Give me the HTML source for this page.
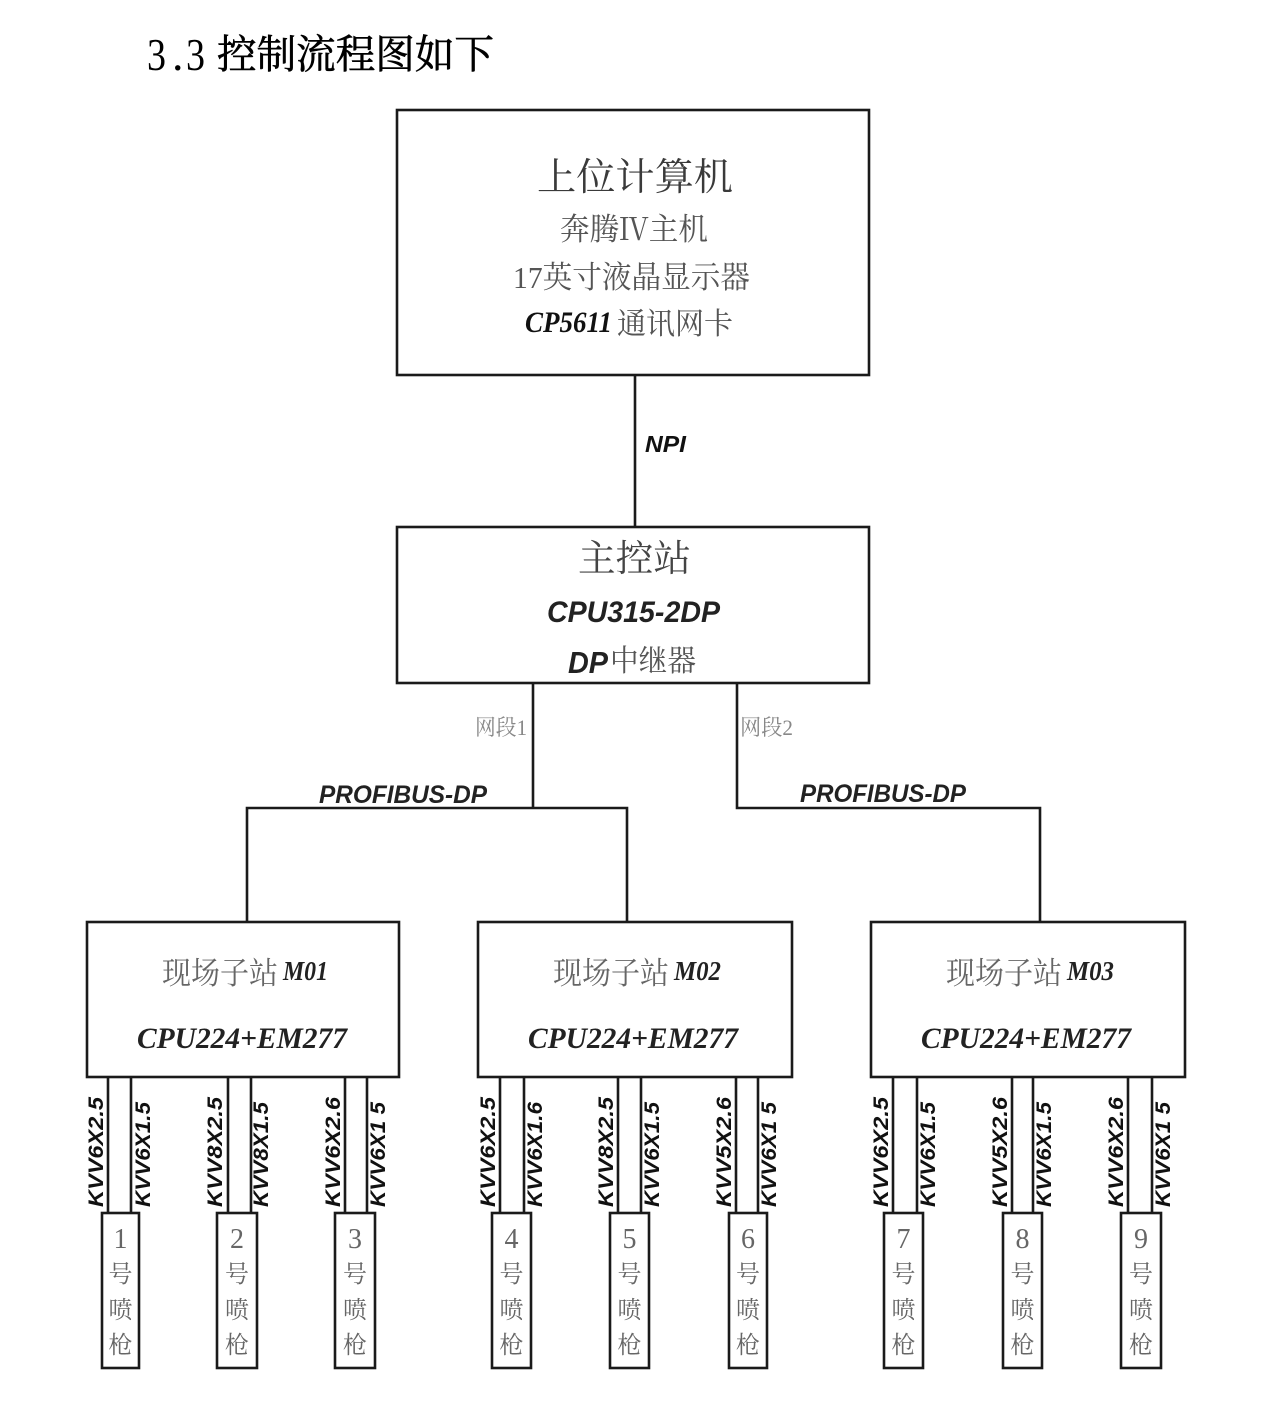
<!DOCTYPE html>
<html>
<head>
<meta charset="utf-8">
<style>
  html, body { margin: 0; padding: 0; background: #ffffff; }
  body { width: 1269px; height: 1413px; overflow: hidden; }
  svg { display: block; }
  .cjk { font-family: "Liberation Serif", "Noto Serif CJK SC", serif; }
  .bis { font-family: "Liberation Sans", sans-serif; font-weight: bold; font-style: italic; }
  .bir { font-family: "Liberation Serif", serif; font-weight: bold; font-style: italic; }
</style>
</head>
<body>
<svg width="1269" height="1413" viewBox="0 0 1269 1413" xmlns="http://www.w3.org/2000/svg">
  <rect x="0" y="0" width="1269" height="1413" fill="#ffffff"/>

  <!-- Title -->
  <g font-family="Liberation Serif, serif" font-size="46" fill="#000">
    <text x="147" y="70" textLength="19" lengthAdjust="spacingAndGlyphs">3</text>
    <text x="172" y="70">.</text>
    <text x="186" y="70" textLength="19" lengthAdjust="spacingAndGlyphs">3</text>
  </g>
  <text x="217" y="68" class="cjk" font-size="40" fill="#000" stroke="#000" stroke-width="0.6" textLength="277" lengthAdjust="spacingAndGlyphs">控制流程图如下</text>

  <g fill="none" stroke="#1a1a1a" stroke-width="2.6">
    <!-- top box -->
    <rect x="397" y="110" width="472" height="265"/>
    <line x1="635" y1="375" x2="635" y2="527"/>
    <!-- master box -->
    <rect x="397" y="527" width="472" height="156"/>
    <!-- segments -->
    <polyline points="533,683 533,808"/>
    <polyline points="737,683 737,808 1040,808 1040,922"/>
    <polyline points="247,922 247,808 627,808 627,922"/>
    <!-- substation boxes -->
    <rect x="87" y="922" width="312" height="155"/>
    <rect x="478" y="922" width="314" height="155"/>
    <rect x="871" y="922" width="314" height="155"/>
    <!-- wire pairs -->
    <line x1="108" y1="1077" x2="108" y2="1213"/><line x1="131" y1="1077" x2="131" y2="1213"/>
    <line x1="228" y1="1077" x2="228" y2="1213"/><line x1="251" y1="1077" x2="251" y2="1213"/>
    <line x1="345" y1="1077" x2="345" y2="1213"/><line x1="367" y1="1077" x2="367" y2="1213"/>
    <line x1="500" y1="1077" x2="500" y2="1213"/><line x1="524" y1="1077" x2="524" y2="1213"/>
    <line x1="618" y1="1077" x2="618" y2="1213"/><line x1="641" y1="1077" x2="641" y2="1213"/>
    <line x1="736" y1="1077" x2="736" y2="1213"/><line x1="758" y1="1077" x2="758" y2="1213"/>
    <line x1="893" y1="1077" x2="893" y2="1213"/><line x1="917" y1="1077" x2="917" y2="1213"/>
    <line x1="1012" y1="1077" x2="1012" y2="1213"/><line x1="1033" y1="1077" x2="1033" y2="1213"/>
    <line x1="1128" y1="1077" x2="1128" y2="1213"/><line x1="1152" y1="1077" x2="1152" y2="1213"/>
    <!-- nozzle boxes -->
    <rect x="102" y="1213" width="37" height="155"/>
    <rect x="217" y="1213" width="40" height="155"/>
    <rect x="335" y="1213" width="40" height="155"/>
    <rect x="492" y="1213" width="39" height="155"/>
    <rect x="610" y="1213" width="39" height="155"/>
    <rect x="729" y="1213" width="38" height="155"/>
    <rect x="884" y="1213" width="39" height="155"/>
    <rect x="1003" y="1213" width="39" height="155"/>
    <rect x="1121" y="1213" width="40" height="155"/>
  </g>

  <!-- Top box text -->
  <text x="537" y="190" class="cjk" font-size="38" fill="#3a3a3a" textLength="196" lengthAdjust="spacingAndGlyphs">上位计算机</text>
  <text x="560" y="240" class="cjk" font-size="31" fill="#555" textLength="148" lengthAdjust="spacingAndGlyphs">奔腾Ⅳ主机</text>
  <text x="513" y="288" class="cjk" font-size="31" fill="#555" textLength="237" lengthAdjust="spacingAndGlyphs">17英寸液晶显示器</text>
  <text x="525" y="332" class="bir" font-size="30" fill="#111" textLength="87" lengthAdjust="spacingAndGlyphs">CP5611</text>
  <text x="617" y="334" class="cjk" font-size="30" fill="#555" textLength="116" lengthAdjust="spacingAndGlyphs">通讯网卡</text>

  <!-- NPI -->
  <text x="645" y="452" class="bis" font-size="23" fill="#111" textLength="41" lengthAdjust="spacingAndGlyphs">NPI</text>

  <!-- Master box text -->
  <text x="578" y="571" class="cjk" font-size="37" fill="#444" textLength="113" lengthAdjust="spacingAndGlyphs">主控站</text>
  <text x="547" y="622" class="bis" font-size="30" fill="#222" textLength="173" lengthAdjust="spacingAndGlyphs">CPU315-2DP</text>
  <text x="568" y="673" class="bis" font-size="31" fill="#222" textLength="40" lengthAdjust="spacingAndGlyphs">DP</text>
  <text x="610" y="671" class="cjk" font-size="30" fill="#555" textLength="86" lengthAdjust="spacingAndGlyphs">中继器</text>

  <!-- Segment labels -->
  <text x="475" y="735" class="cjk" font-size="22" fill="#888" textLength="52" lengthAdjust="spacingAndGlyphs">网段1</text>
  <text x="740" y="735" class="cjk" font-size="22" fill="#888" textLength="53" lengthAdjust="spacingAndGlyphs">网段2</text>
  <text x="319" y="803" class="bis" font-size="25" fill="#222" textLength="168" lengthAdjust="spacingAndGlyphs">PROFIBUS-DP</text>
  <text x="800" y="802" class="bis" font-size="25" fill="#222" textLength="166" lengthAdjust="spacingAndGlyphs">PROFIBUS-DP</text>

  <!-- Substation texts -->
  <text x="162" y="984" class="cjk" font-size="31" fill="#666" textLength="116" lengthAdjust="spacingAndGlyphs">现场子站</text>
  <text x="283" y="980" class="bir" font-size="27" fill="#222" textLength="45" lengthAdjust="spacingAndGlyphs">M01</text>
  <text x="137" y="1048" class="bir" font-size="30" fill="#222" textLength="210" lengthAdjust="spacingAndGlyphs">CPU224+EM277</text>

  <text x="553" y="984" class="cjk" font-size="31" fill="#666" textLength="116" lengthAdjust="spacingAndGlyphs">现场子站</text>
  <text x="674" y="980" class="bir" font-size="27" fill="#222" textLength="47" lengthAdjust="spacingAndGlyphs">M02</text>
  <text x="528" y="1048" class="bir" font-size="30" fill="#222" textLength="210" lengthAdjust="spacingAndGlyphs">CPU224+EM277</text>

  <text x="946" y="984" class="cjk" font-size="31" fill="#666" textLength="116" lengthAdjust="spacingAndGlyphs">现场子站</text>
  <text x="1067" y="980" class="bir" font-size="27" fill="#222" textLength="47" lengthAdjust="spacingAndGlyphs">M03</text>
  <text x="921" y="1048" class="bir" font-size="30" fill="#222" textLength="210" lengthAdjust="spacingAndGlyphs">CPU224+EM277</text>

  <!-- Cable labels (rotated) -->
  <g class="bis" font-size="21" fill="#111">
    <text transform="translate(103,1207) rotate(-90)" textLength="110" lengthAdjust="spacingAndGlyphs">KVV6X2.5</text>
    <text transform="translate(150,1207) rotate(-90)" textLength="105" lengthAdjust="spacingAndGlyphs">KVV6X1.5</text>
    <text transform="translate(222,1207) rotate(-90)" textLength="110" lengthAdjust="spacingAndGlyphs">KVV8X2.5</text>
    <text transform="translate(268,1207) rotate(-90)" textLength="105" lengthAdjust="spacingAndGlyphs">KVV8X1.5</text>
    <text transform="translate(340,1207) rotate(-90)" textLength="110" lengthAdjust="spacingAndGlyphs">KVV6X2.6</text>
    <text transform="translate(385,1207) rotate(-90)" textLength="105" lengthAdjust="spacingAndGlyphs">KVV6X1 5</text>

    <text transform="translate(495,1207) rotate(-90)" textLength="110" lengthAdjust="spacingAndGlyphs">KVV6X2.5</text>
    <text transform="translate(542,1207) rotate(-90)" textLength="105" lengthAdjust="spacingAndGlyphs">KVV6X1.6</text>
    <text transform="translate(613,1207) rotate(-90)" textLength="110" lengthAdjust="spacingAndGlyphs">KVV8X2.5</text>
    <text transform="translate(659,1207) rotate(-90)" textLength="105" lengthAdjust="spacingAndGlyphs">KVV6X1.5</text>
    <text transform="translate(731,1207) rotate(-90)" textLength="110" lengthAdjust="spacingAndGlyphs">KVV5X2.6</text>
    <text transform="translate(776,1207) rotate(-90)" textLength="105" lengthAdjust="spacingAndGlyphs">KVV6X1 5</text>

    <text transform="translate(888,1207) rotate(-90)" textLength="110" lengthAdjust="spacingAndGlyphs">KVV6X2.5</text>
    <text transform="translate(935,1207) rotate(-90)" textLength="105" lengthAdjust="spacingAndGlyphs">KVV6X1.5</text>
    <text transform="translate(1007,1207) rotate(-90)" textLength="110" lengthAdjust="spacingAndGlyphs">KVV5X2.6</text>
    <text transform="translate(1051,1207) rotate(-90)" textLength="105" lengthAdjust="spacingAndGlyphs">KVV6X1.5</text>
    <text transform="translate(1123,1207) rotate(-90)" textLength="110" lengthAdjust="spacingAndGlyphs">KVV6X2.6</text>
    <text transform="translate(1170,1207) rotate(-90)" textLength="105" lengthAdjust="spacingAndGlyphs">KVV6X1 5</text>
  </g>

  <!-- Nozzle labels -->
  <g class="cjk" fill="#666" text-anchor="middle">
    <g font-size="28" font-family="Liberation Serif, serif">
      <text x="120.5" y="1248">1</text>
      <text x="237" y="1248">2</text>
      <text x="355" y="1248">3</text>
      <text x="511.5" y="1248">4</text>
      <text x="629.5" y="1248">5</text>
      <text x="748" y="1248">6</text>
      <text x="903.5" y="1248">7</text>
      <text x="1022.5" y="1248">8</text>
      <text x="1141" y="1248">9</text>
    </g>
    <g font-size="24">
      <text x="120.5" y="1282">号</text><text x="120.5" y="1318">喷</text><text x="120.5" y="1353">枪</text>
      <text x="237" y="1282">号</text><text x="237" y="1318">喷</text><text x="237" y="1353">枪</text>
      <text x="355" y="1282">号</text><text x="355" y="1318">喷</text><text x="355" y="1353">枪</text>
      <text x="511.5" y="1282">号</text><text x="511.5" y="1318">喷</text><text x="511.5" y="1353">枪</text>
      <text x="629.5" y="1282">号</text><text x="629.5" y="1318">喷</text><text x="629.5" y="1353">枪</text>
      <text x="748" y="1282">号</text><text x="748" y="1318">喷</text><text x="748" y="1353">枪</text>
      <text x="903.5" y="1282">号</text><text x="903.5" y="1318">喷</text><text x="903.5" y="1353">枪</text>
      <text x="1022.5" y="1282">号</text><text x="1022.5" y="1318">喷</text><text x="1022.5" y="1353">枪</text>
      <text x="1141" y="1282">号</text><text x="1141" y="1318">喷</text><text x="1141" y="1353">枪</text>
    </g>
  </g>
</svg>
</body>
</html>
